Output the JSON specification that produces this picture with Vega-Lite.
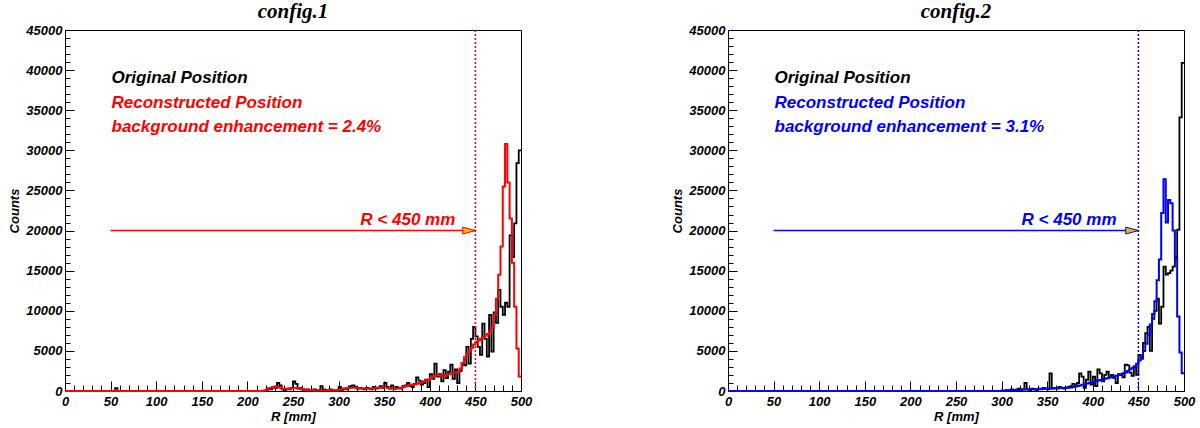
{
"$schema": "https://vega.github.io/schema/vega-lite/v6.json",
"padding": {"left": 8, "top": 0, "right": 5, "bottom": 0},
"spacing": 138,
"datasets": {
"h1": [
{"R":0,"O":0,"N":0},{"R":2.5,"O":0,"N":0},{"R":5,"O":0,"N":0},{"R":7.5,"O":0,"N":0},{"R":10,"O":0,"N":0},{"R":12.5,"O":0,"N":0},{"R":15,"O":0,"N":0},{"R":17.5,"O":0,"N":0},{"R":20,"O":0,"N":0},{"R":22.5,"O":0,"N":0},{"R":25,"O":0,"N":0},{"R":27.5,"O":0,"N":0},{"R":30,"O":0,"N":0},{"R":32.5,"O":0,"N":0},{"R":35,"O":0,"N":0},{"R":37.5,"O":0,"N":0},{"R":40,"O":0,"N":0},{"R":42.5,"O":0,"N":0},{"R":45,"O":0,"N":0},{"R":47.5,"O":0,"N":0},{"R":50,"O":0,"N":0},{"R":52.5,"O":0,"N":0},
{"R":55,"O":350,"N":0},
{"R":57.5,"O":0,"N":0},{"R":60,"O":0,"N":0},{"R":62.5,"O":0,"N":0},{"R":65,"O":0,"N":0},{"R":67.5,"O":0,"N":0},{"R":70,"O":0,"N":0},{"R":72.5,"O":0,"N":0},{"R":75,"O":0,"N":0},{"R":77.5,"O":0,"N":0},{"R":80,"O":0,"N":0},{"R":82.5,"O":0,"N":0},{"R":85,"O":0,"N":0},{"R":87.5,"O":0,"N":0},{"R":90,"O":0,"N":0},{"R":92.5,"O":0,"N":0},{"R":95,"O":0,"N":0},{"R":97.5,"O":0,"N":0},{"R":100,"O":0,"N":0},{"R":102.5,"O":0,"N":0},{"R":105,"O":0,"N":0},{"R":107.5,"O":0,"N":0},{"R":110,"O":0,"N":0},{"R":112.5,"O":0,"N":0},{"R":115,"O":0,"N":0},{"R":117.5,"O":0,"N":0},{"R":120,"O":0,"N":0},{"R":122.5,"O":0,"N":0},{"R":125,"O":0,"N":0},{"R":127.5,"O":0,"N":0},{"R":130,"O":0,"N":0},{"R":132.5,"O":0,"N":0},{"R":135,"O":0,"N":0},{"R":137.5,"O":0,"N":0},{"R":140,"O":0,"N":0},{"R":142.5,"O":0,"N":0},{"R":145,"O":0,"N":0},{"R":147.5,"O":0,"N":0},{"R":150,"O":0,"N":0},{"R":152.5,"O":0,"N":0},{"R":155,"O":0,"N":0},{"R":157.5,"O":0,"N":0},{"R":160,"O":0,"N":0},{"R":162.5,"O":0,"N":0},{"R":165,"O":0,"N":0},{"R":167.5,"O":0,"N":0},{"R":170,"O":0,"N":0},{"R":172.5,"O":0,"N":0},{"R":175,"O":0,"N":0},{"R":177.5,"O":0,"N":0},{"R":180,"O":0,"N":0},{"R":182.5,"O":0,"N":0},{"R":185,"O":0,"N":0},{"R":187.5,"O":0,"N":0},{"R":190,"O":0,"N":0},{"R":192.5,"O":0,"N":0},{"R":195,"O":0,"N":0},{"R":197.5,"O":0,"N":0},{"R":200,"O":0,"N":0},{"R":202.5,"O":0,"N":0},{"R":205,"O":0,"N":0},{"R":207.5,"O":0,"N":0},{"R":210,"O":0,"N":0},{"R":212.5,"O":0,"N":0},{"R":215,"O":0,"N":0},
{"R":217.5,"O":0,"N":50},{"R":220,"O":100,"N":150},{"R":222.5,"O":300,"N":300},{"R":225,"O":200,"N":400},{"R":227.5,"O":500,"N":500},{"R":230,"O":400,"N":550},{"R":232.5,"O":1000,"N":500},{"R":235,"O":700,"N":400},{"R":237.5,"O":200,"N":300},{"R":240,"O":100,"N":250},{"R":242.5,"O":300,"N":250},{"R":245,"O":200,"N":300},{"R":247.5,"O":400,"N":350},{"R":250,"O":1200,"N":400},{"R":252.5,"O":900,"N":400},{"R":255,"O":300,"N":350},{"R":257.5,"O":400,"N":250},{"R":260,"O":200,"N":200},{"R":262.5,"O":100,"N":150},{"R":265,"O":200,"N":150},{"R":267.5,"O":0,"N":100},{"R":270,"O":100,"N":100},{"R":272.5,"O":200,"N":100},{"R":275,"O":0,"N":100},{"R":277.5,"O":100,"N":100},{"R":280,"O":600,"N":100},{"R":282.5,"O":200,"N":100},{"R":285,"O":100,"N":100},{"R":287.5,"O":0,"N":100},{"R":290,"O":200,"N":100},{"R":292.5,"O":100,"N":100},{"R":295,"O":0,"N":100},{"R":297.5,"O":100,"N":100},
{"R":300,"O":500,"N":150},{"R":302.5,"O":100,"N":200},{"R":305,"O":300,"N":300},{"R":307.5,"O":200,"N":350},{"R":310,"O":400,"N":400},{"R":312.5,"O":600,"N":400},{"R":315,"O":700,"N":400},{"R":317.5,"O":500,"N":400},{"R":320,"O":300,"N":350},{"R":322.5,"O":400,"N":300},{"R":325,"O":300,"N":300},{"R":327.5,"O":200,"N":300},{"R":330,"O":400,"N":300},{"R":332.5,"O":300,"N":300},{"R":335,"O":200,"N":300},{"R":337.5,"O":500,"N":350},{"R":340,"O":300,"N":400},{"R":342.5,"O":400,"N":450},{"R":345,"O":600,"N":450},{"R":347.5,"O":400,"N":450},{"R":350,"O":1000,"N":450},{"R":352.5,"O":500,"N":400},{"R":355,"O":300,"N":350},{"R":357.5,"O":700,"N":300},{"R":360,"O":300,"N":250},{"R":362.5,"O":500,"N":300},{"R":365,"O":400,"N":350},{"R":367.5,"O":300,"N":400},{"R":370,"O":600,"N":500},{"R":372.5,"O":700,"N":600},{"R":375,"O":1000,"N":700},{"R":377.5,"O":600,"N":750},{"R":380,"O":500,"N":800},{"R":382.5,"O":900,"N":800},{"R":385,"O":1700,"N":900},{"R":387.5,"O":1300,"N":1000},{"R":390,"O":800,"N":1100},{"R":392.5,"O":1000,"N":1200},{"R":395,"O":1400,"N":1300},{"R":397.5,"O":500,"N":1400},
{"R":400,"O":2100,"N":1600},{"R":402.5,"O":1500,"N":1800},{"R":405,"O":3400,"N":1900},{"R":407.5,"O":1800,"N":2000},{"R":410,"O":2100,"N":2000},{"R":412.5,"O":1200,"N":1900},{"R":415,"O":2600,"N":1900},{"R":417.5,"O":1600,"N":2000},{"R":420,"O":2400,"N":2100},{"R":422.5,"O":3300,"N":2200},{"R":425,"O":1500,"N":2300},{"R":427.5,"O":2700,"N":2300},{"R":430,"O":1000,"N":2400},{"R":432.5,"O":2500,"N":2800},{"R":435,"O":3500,"N":3500},{"R":437.5,"O":3200,"N":4200},{"R":440,"O":5500,"N":4600},{"R":442.5,"O":3400,"N":5000},{"R":445,"O":6500,"N":5400},{"R":447.5,"O":8000,"N":5800},{"R":450,"O":6800,"N":6100},{"R":452.5,"O":5500,"N":6300},{"R":455,"O":4500,"N":6500},{"R":457.5,"O":8400,"N":6700},{"R":460,"O":6500,"N":6900},{"R":462.5,"O":4300,"N":7100},{"R":465,"O":9500,"N":7400},{"R":467.5,"O":4900,"N":8000},{"R":470,"O":9800,"N":9500},{"R":472.5,"O":8500,"N":11500},{"R":475,"O":12600,"N":14500},{"R":477.5,"O":10500,"N":18000},{"R":480,"O":9500,"N":25500},{"R":482.5,"O":11000,"N":30800},{"R":485,"O":10500,"N":26000},{"R":487.5,"O":19400,"N":21500},{"R":490,"O":16700,"N":16000},{"R":492.5,"O":20900,"N":10500},{"R":495,"O":28400,"N":5300},{"R":497.5,"O":30000,"N":1800},{"R":500,"O":30000,"N":1800}
],
"h2": [
{"R":0,"O":0,"N":0},{"R":2.5,"O":0,"N":0},{"R":5,"O":0,"N":0},{"R":7.5,"O":0,"N":0},{"R":10,"O":0,"N":0},{"R":12.5,"O":0,"N":0},{"R":15,"O":0,"N":0},{"R":17.5,"O":0,"N":0},{"R":20,"O":0,"N":0},{"R":22.5,"O":0,"N":0},{"R":25,"O":0,"N":0},{"R":27.5,"O":0,"N":0},{"R":30,"O":0,"N":0},{"R":32.5,"O":0,"N":0},{"R":35,"O":0,"N":0},{"R":37.5,"O":0,"N":0},{"R":40,"O":0,"N":0},{"R":42.5,"O":0,"N":0},{"R":45,"O":0,"N":0},{"R":47.5,"O":0,"N":0},{"R":50,"O":0,"N":0},{"R":52.5,"O":0,"N":0},{"R":55,"O":0,"N":0},{"R":57.5,"O":0,"N":0},{"R":60,"O":0,"N":0},{"R":62.5,"O":0,"N":0},{"R":65,"O":0,"N":0},{"R":67.5,"O":0,"N":0},{"R":70,"O":0,"N":0},{"R":72.5,"O":0,"N":0},{"R":75,"O":0,"N":0},{"R":77.5,"O":0,"N":0},{"R":80,"O":0,"N":0},{"R":82.5,"O":0,"N":0},{"R":85,"O":0,"N":0},{"R":87.5,"O":0,"N":0},{"R":90,"O":0,"N":0},{"R":92.5,"O":0,"N":0},{"R":95,"O":0,"N":0},{"R":97.5,"O":0,"N":0},{"R":100,"O":0,"N":0},{"R":102.5,"O":0,"N":0},{"R":105,"O":0,"N":0},{"R":107.5,"O":0,"N":0},{"R":110,"O":0,"N":0},{"R":112.5,"O":0,"N":0},{"R":115,"O":0,"N":0},{"R":117.5,"O":0,"N":0},{"R":120,"O":0,"N":0},{"R":122.5,"O":0,"N":0},{"R":125,"O":0,"N":0},{"R":127.5,"O":0,"N":0},{"R":130,"O":0,"N":0},{"R":132.5,"O":0,"N":0},{"R":135,"O":0,"N":0},{"R":137.5,"O":0,"N":0},{"R":140,"O":0,"N":0},{"R":142.5,"O":0,"N":0},{"R":145,"O":0,"N":0},{"R":147.5,"O":0,"N":0},{"R":150,"O":0,"N":0},{"R":152.5,"O":0,"N":0},{"R":155,"O":0,"N":0},{"R":157.5,"O":0,"N":0},{"R":160,"O":0,"N":0},{"R":162.5,"O":0,"N":0},{"R":165,"O":0,"N":0},{"R":167.5,"O":0,"N":0},{"R":170,"O":0,"N":0},{"R":172.5,"O":0,"N":0},{"R":175,"O":0,"N":0},{"R":177.5,"O":0,"N":0},{"R":180,"O":0,"N":0},{"R":182.5,"O":0,"N":0},{"R":185,"O":0,"N":0},{"R":187.5,"O":0,"N":0},{"R":190,"O":0,"N":0},{"R":192.5,"O":0,"N":0},{"R":195,"O":0,"N":0},{"R":197.5,"O":0,"N":0},{"R":200,"O":0,"N":0},{"R":202.5,"O":0,"N":0},{"R":205,"O":0,"N":0},{"R":207.5,"O":0,"N":0},{"R":210,"O":0,"N":0},{"R":212.5,"O":0,"N":0},{"R":215,"O":0,"N":0},{"R":217.5,"O":0,"N":0},{"R":220,"O":0,"N":0},{"R":222.5,"O":0,"N":0},{"R":225,"O":0,"N":0},{"R":227.5,"O":0,"N":0},{"R":230,"O":0,"N":0},{"R":232.5,"O":0,"N":0},{"R":235,"O":0,"N":0},{"R":237.5,"O":0,"N":0},{"R":240,"O":0,"N":0},{"R":242.5,"O":0,"N":0},{"R":245,"O":0,"N":0},{"R":247.5,"O":0,"N":0},{"R":250,"O":0,"N":0},{"R":252.5,"O":0,"N":0},{"R":255,"O":0,"N":0},{"R":257.5,"O":0,"N":0},{"R":260,"O":0,"N":0},{"R":262.5,"O":0,"N":0},{"R":265,"O":0,"N":0},{"R":267.5,"O":0,"N":0},{"R":270,"O":0,"N":0},{"R":272.5,"O":0,"N":0},{"R":275,"O":0,"N":0},{"R":277.5,"O":0,"N":0},{"R":280,"O":0,"N":0},{"R":282.5,"O":0,"N":0},{"R":285,"O":0,"N":0},{"R":287.5,"O":0,"N":0},{"R":290,"O":0,"N":0},{"R":292.5,"O":0,"N":0},{"R":295,"O":0,"N":0},{"R":297.5,"O":0,"N":0},
{"R":300,"O":0,"N":50},{"R":302.5,"O":0,"N":50},{"R":305,"O":100,"N":80},{"R":307.5,"O":0,"N":100},{"R":310,"O":200,"N":100},{"R":312.5,"O":0,"N":120},{"R":315,"O":100,"N":150},{"R":317.5,"O":300,"N":150},{"R":320,"O":100,"N":170},{"R":322.5,"O":200,"N":180},{"R":325,"O":1000,"N":200},{"R":327.5,"O":200,"N":200},{"R":330,"O":100,"N":200},{"R":332.5,"O":300,"N":220},{"R":335,"O":200,"N":230},{"R":337.5,"O":100,"N":240},{"R":340,"O":300,"N":250},{"R":342.5,"O":200,"N":260},{"R":345,"O":400,"N":280},{"R":347.5,"O":300,"N":290},{"R":350,"O":200,"N":300},{"R":352.5,"O":2200,"N":320},{"R":355,"O":300,"N":330},{"R":357.5,"O":400,"N":340},{"R":360,"O":300,"N":350},{"R":362.5,"O":500,"N":360},{"R":365,"O":400,"N":380},{"R":367.5,"O":300,"N":390},{"R":370,"O":400,"N":400},{"R":372.5,"O":500,"N":420},{"R":375,"O":600,"N":450},{"R":377.5,"O":900,"N":500},{"R":380,"O":700,"N":560},{"R":382.5,"O":1000,"N":630},{"R":385,"O":2200,"N":700},{"R":387.5,"O":1800,"N":780},{"R":390,"O":400,"N":850},{"R":392.5,"O":1400,"N":920},{"R":395,"O":2400,"N":1000},{"R":397.5,"O":800,"N":1070},
{"R":400,"O":1800,"N":1150},{"R":402.5,"O":600,"N":1220},{"R":405,"O":2700,"N":1300},{"R":407.5,"O":2200,"N":1380},{"R":410,"O":1200,"N":1450},{"R":412.5,"O":2000,"N":1520},{"R":415,"O":2400,"N":1600},{"R":417.5,"O":1800,"N":1680},{"R":420,"O":2000,"N":1750},{"R":422.5,"O":1600,"N":1820},{"R":425,"O":1000,"N":1900},{"R":427.5,"O":2100,"N":2000},{"R":430,"O":2000,"N":2100},{"R":432.5,"O":1700,"N":2200},{"R":435,"O":3300,"N":2300},{"R":437.5,"O":3200,"N":2500},{"R":440,"O":2300,"N":2700},{"R":442.5,"O":1900,"N":2900},{"R":445,"O":3000,"N":3100},{"R":447.5,"O":2000,"N":3400},{"R":450,"O":4500,"N":3800},{"R":452.5,"O":4000,"N":4300},{"R":455,"O":6000,"N":5000},{"R":457.5,"O":7200,"N":5900},{"R":460,"O":8000,"N":7000},{"R":462.5,"O":5000,"N":8300},{"R":465,"O":9000,"N":9600},{"R":467.5,"O":10000,"N":11200},{"R":470,"O":11500,"N":13800},{"R":472.5,"O":8400,"N":16400},{"R":475,"O":10500,"N":22200},{"R":477.5,"O":15500,"N":26400},{"R":480,"O":14500,"N":21000},{"R":482.5,"O":14700,"N":23800},{"R":485,"O":15000,"N":23400},{"R":487.5,"O":15500,"N":20000},{"R":490,"O":16700,"N":16500},{"R":492.5,"O":20100,"N":9300},{"R":495,"O":34100,"N":4800},{"R":497.5,"O":40900,"N":2200},{"R":500,"O":40900,"N":2200}
]
},
"hconcat": [
{
"width": 456, "height": 361,
"title": {"text": "config.1", "anchor": "middle", "frame": "group"},
"resolve": {"axis": {"x": "independent", "y": "independent"}},
"layer": [
{"data": {"name": "h1"}, "mark": {"type": "line", "interpolate": "step-after", "color": "black", "strokeWidth": 1.8},
 "encoding": {
  "x": {"field": "R", "type": "quantitative", "scale": {"domain": [0, 500], "nice": false, "zero": false},
        "axis": {"orient": "bottom", "values": [0,50,100,150,200,250,300,350,400,450,500], "tickSize": -10, "labelPadding": 14, "title": "R [mm]", "format": "d", "titlePadding": 2}},
  "y": {"field": "O", "type": "quantitative", "scale": {"domain": [0, 45000], "nice": false},
        "axis": {"orient": "left", "values": [0,5000,10000,15000,20000,25000,30000,35000,40000,45000], "tickSize": -9, "labelPadding": 12, "title": "Counts", "format": "d", "titlePadding": 4}}
 }},
{"data": {"name": "h1"}, "mark": {"type": "line", "interpolate": "step-after", "color": "#ff0000", "strokeWidth": 2},
 "encoding": {"x": {"field": "R", "type": "quantitative", "axis": null}, "y": {"field": "N", "type": "quantitative", "axis": null}}},
{"data": {"values": [{"R": 450}]}, "mark": {"type": "rule", "color": "#ff0000", "strokeDash": [2, 2], "strokeWidth": 1.5},
 "encoding": {"x": {"field": "R", "type": "quantitative",
   "axis": {"orient": "bottom", "values": [0,10,20,30,40,50,60,70,80,90,100,110,120,130,140,150,160,170,180,190,200,210,220,230,240,250,260,270,280,290,300,310,320,330,340,350,360,370,380,390,400,410,420,430,440,450,460,470,480,490,500], "tickSize": -6, "labels": false, "title": null, "domain": false}}}},
{"data": {"values": [{"R": 50, "R2": 450, "C": 20000}]}, "mark": {"type": "rule", "color": "#ff0000", "strokeWidth": 1.5},
 "encoding": {"x": {"field": "R", "type": "quantitative", "axis": null}, "x2": {"field": "R2"},
   "y": {"field": "C", "type": "quantitative",
   "axis": {"orient": "left", "values": [0,1000,2000,3000,4000,5000,6000,7000,8000,9000,10000,11000,12000,13000,14000,15000,16000,17000,18000,19000,20000,21000,22000,23000,24000,25000,26000,27000,28000,29000,30000,31000,32000,33000,34000,35000,36000,37000,38000,39000,40000,41000,42000,43000,44000,45000], "tickSize": -5, "labels": false, "title": null, "domain": false}}}},
{"data": {"values": [{"R": 450, "C": 20000}]}, "mark": {"type": "point", "shape": "M-2,-0.55L0,0L-2,0.55Z", "size": 160, "filled": true, "fill": "#f5b800", "stroke": "#ff0000", "strokeWidth": 1, "opacity": 1},
 "encoding": {"x": {"field": "R", "type": "quantitative", "axis": null}, "y": {"field": "C", "type": "quantitative", "axis": null}}},
{"data": {"values": [{"R": 51, "C": 39000, "t": "Original Position"}]}, "mark": {"type": "text", "align": "left", "baseline": "middle", "font": "Liberation Sans", "fontWeight": "bold", "fontStyle": "italic", "fontSize": 17, "color": "black"},
 "encoding": {"x": {"field": "R", "type": "quantitative", "axis": null}, "y": {"field": "C", "type": "quantitative", "axis": null}, "text": {"field": "t"}}},
{"data": {"values": [{"R": 51, "C": 35900, "t": "Reconstructed Position"}, {"R": 51, "C": 32900, "t": "background enhancement = 2.4%"}]}, "mark": {"type": "text", "align": "left", "baseline": "middle", "font": "Liberation Sans", "fontWeight": "bold", "fontStyle": "italic", "fontSize": 17, "color": "#ff0000"},
 "encoding": {"x": {"field": "R", "type": "quantitative", "axis": null}, "y": {"field": "C", "type": "quantitative", "axis": null}, "text": {"field": "t"}}},
{"data": {"values": [{"R": 428, "C": 21300, "t": "R < 450 mm"}]}, "mark": {"type": "text", "align": "right", "baseline": "middle", "font": "Liberation Sans", "fontWeight": "bold", "fontStyle": "italic", "fontSize": 17, "color": "#ff0000"},
 "encoding": {"x": {"field": "R", "type": "quantitative", "axis": null}, "y": {"field": "C", "type": "quantitative", "axis": null}, "text": {"field": "t"}}}
]
},
{
"width": 456, "height": 361,
"title": {"text": "config.2", "anchor": "middle", "frame": "group"},
"resolve": {"axis": {"x": "independent", "y": "independent"}},
"layer": [
{"data": {"name": "h2"}, "mark": {"type": "line", "interpolate": "step-after", "color": "black", "strokeWidth": 1.8},
 "encoding": {
  "x": {"field": "R", "type": "quantitative", "scale": {"domain": [0, 500], "nice": false, "zero": false},
        "axis": {"orient": "bottom", "values": [0,50,100,150,200,250,300,350,400,450,500], "tickSize": -10, "labelPadding": 14, "title": "R [mm]", "format": "d", "titlePadding": 2}},
  "y": {"field": "O", "type": "quantitative", "scale": {"domain": [0, 45000], "nice": false},
        "axis": {"orient": "left", "values": [0,5000,10000,15000,20000,25000,30000,35000,40000,45000], "tickSize": -9, "labelPadding": 12, "title": "Counts", "format": "d", "titlePadding": 4}}
 }},
{"data": {"name": "h2"}, "mark": {"type": "line", "interpolate": "step-after", "color": "#0000ff", "strokeWidth": 2},
 "encoding": {"x": {"field": "R", "type": "quantitative", "axis": null}, "y": {"field": "N", "type": "quantitative", "axis": null}}},
{"data": {"values": [{"R": 450}]}, "mark": {"type": "rule", "color": "#0000ff", "strokeDash": [2, 2], "strokeWidth": 1.5},
 "encoding": {"x": {"field": "R", "type": "quantitative",
   "axis": {"orient": "bottom", "values": [0,10,20,30,40,50,60,70,80,90,100,110,120,130,140,150,160,170,180,190,200,210,220,230,240,250,260,270,280,290,300,310,320,330,340,350,360,370,380,390,400,410,420,430,440,450,460,470,480,490,500], "tickSize": -6, "labels": false, "title": null, "domain": false}}}},
{"data": {"values": [{"R": 50, "R2": 450, "C": 20000}]}, "mark": {"type": "rule", "color": "#0000ff", "strokeWidth": 1.5},
 "encoding": {"x": {"field": "R", "type": "quantitative", "axis": null}, "x2": {"field": "R2"},
   "y": {"field": "C", "type": "quantitative",
   "axis": {"orient": "left", "values": [0,1000,2000,3000,4000,5000,6000,7000,8000,9000,10000,11000,12000,13000,14000,15000,16000,17000,18000,19000,20000,21000,22000,23000,24000,25000,26000,27000,28000,29000,30000,31000,32000,33000,34000,35000,36000,37000,38000,39000,40000,41000,42000,43000,44000,45000], "tickSize": -5, "labels": false, "title": null, "domain": false}}}},
{"data": {"values": [{"R": 450, "C": 20000}]}, "mark": {"type": "point", "shape": "M-2,-0.55L0,0L-2,0.55Z", "size": 160, "filled": true, "fill": "#f5b800", "stroke": "#0000ff", "strokeWidth": 1, "opacity": 1},
 "encoding": {"x": {"field": "R", "type": "quantitative", "axis": null}, "y": {"field": "C", "type": "quantitative", "axis": null}}},
{"data": {"values": [{"R": 51, "C": 39000, "t": "Original Position"}]}, "mark": {"type": "text", "align": "left", "baseline": "middle", "font": "Liberation Sans", "fontWeight": "bold", "fontStyle": "italic", "fontSize": 17, "color": "black"},
 "encoding": {"x": {"field": "R", "type": "quantitative", "axis": null}, "y": {"field": "C", "type": "quantitative", "axis": null}, "text": {"field": "t"}}},
{"data": {"values": [{"R": 51, "C": 35900, "t": "Reconstructed Position"}, {"R": 51, "C": 32900, "t": "background enhancement = 3.1%"}]}, "mark": {"type": "text", "align": "left", "baseline": "middle", "font": "Liberation Sans", "fontWeight": "bold", "fontStyle": "italic", "fontSize": 17, "color": "#0000ff"},
 "encoding": {"x": {"field": "R", "type": "quantitative", "axis": null}, "y": {"field": "C", "type": "quantitative", "axis": null}, "text": {"field": "t"}}},
{"data": {"values": [{"R": 426, "C": 21300, "t": "R < 450 mm"}]}, "mark": {"type": "text", "align": "right", "baseline": "middle", "font": "Liberation Sans", "fontWeight": "bold", "fontStyle": "italic", "fontSize": 17, "color": "#0000ff"},
 "encoding": {"x": {"field": "R", "type": "quantitative", "axis": null}, "y": {"field": "C", "type": "quantitative", "axis": null}, "text": {"field": "t"}}}
]
}
],
"config": {
 "view": {"stroke": "black", "strokeWidth": 1},
 "axis": {"labelFont": "Liberation Sans", "labelFontWeight": "bold", "labelFontStyle": "italic", "labelFontSize": 13, "labelColor": "black", "titleFont": "Liberation Sans", "titleFontWeight": "bold", "titleFontStyle": "italic", "titleFontSize": 13, "titleColor": "black", "domainColor": "black", "tickColor": "black", "grid": false, "labelFlush": false, "labelOverlap": false},
 "title": {"font": "Liberation Serif", "fontWeight": "bold", "fontStyle": "italic", "fontSize": 21, "color": "black", "offset": 2}
}
}
